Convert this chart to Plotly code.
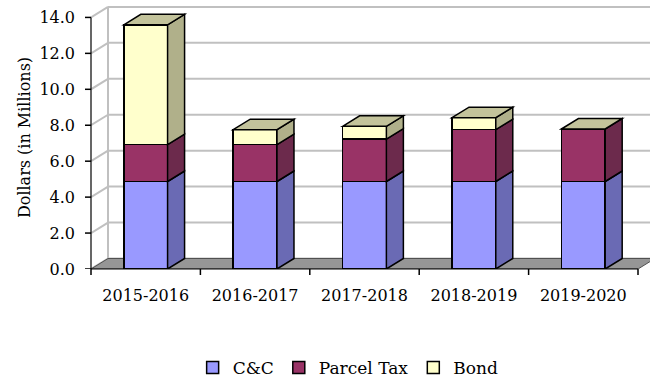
import plotly.graph_objects as go

categories = ["2015-2016", "2016-2017", "2017-2018", "2018-2019", "2019-2020"]
cc = [4.87, 4.87, 4.87, 4.87, 4.87]
parcel = [2.05, 2.05, 2.36, 2.88, 2.92]
bond = [6.67, 0.83, 0.71, 0.67, 0.0]
series_names = ["C&C", "Parcel Tax", "Bond"]
y_ticks = [0, 2, 4, 6, 8, 10, 12, 14]

front_colors = ["#9999FF", "#993366", "#FFFFCC"]
side_colors = ["#6A6AB4", "#6C2A4C", "#B0B08A"]
top_color = "#C3C39B"

# layout geometry (pixels)
W, H = 650, 379
ML, MR, MT, MB = 91, 0, 6, 110
PLOT_W, PLOT_H = W - ML - MR, H - MT - MB
PX_PER_CAT = 109.4
PX_PER_UNIT = 17.97
DEPTH_X_PX, DEPTH_Y_PX = 17, 10.5
TICK_PX = 6
BAR_W = 0.40

DX = DEPTH_X_PX / PX_PER_CAT
DY = DEPTH_Y_PX / PX_PER_UNIT
x_max = -0.5 + PLOT_W / PX_PER_CAT
y_max = PLOT_H / PX_PER_UNIT
n = len(categories)
FONT = "DejaVu Serif"
FS = 16

fig = go.Figure()
series = [cc, parcel, bond]
for name, vals, col in zip(series_names, series, front_colors):
    fig.add_trace(go.Bar(
        x=categories, y=vals, name=name, width=BAR_W,
        marker=dict(color=col, line=dict(color="black", width=1.5)),
    ))

shapes = []
grid_col = "#C0C0C0"
for v in y_ticks:
    shapes.append(dict(type="line", xref="x", yref="y", layer="below",
                       x0=-0.5 + DX, x1=x_max + 1, y0=v + DY, y1=v + DY,
                       line=dict(color=grid_col, width=2)))
    shapes.append(dict(type="line", xref="x", yref="y", layer="below",
                       x0=-0.5, x1=-0.5 + DX, y0=v, y1=v + DY,
                       line=dict(color=grid_col, width=2)))
    shapes.append(dict(type="line", xref="paper", yref="y", layer="above",
                       x0=-TICK_PX / PLOT_W, x1=0, y0=v, y1=v,
                       line=dict(color="black", width=1.5)))
shapes.append(dict(type="line", xref="x", yref="y", layer="below",
                   x0=-0.5 + DX, x1=-0.5 + DX, y0=DY, y1=y_ticks[-1] + DY,
                   line=dict(color=grid_col, width=2)))
x0f, x1f = -0.5, n - 0.5
shapes.append(dict(type="path", xref="x", yref="y", layer="below",
                   path=f"M{x0f},0 L{x1f},0 L{x1f + DX},{DY} L{x0f + DX},{DY} Z",
                   fillcolor="#969696", line=dict(color="#505050", width=1)))
shapes.append(dict(type="line", xref="paper", yref="y", layer="above",
                   x0=0, x1=0, y0=0, y1=y_ticks[-1],
                   line=dict(color="black", width=1.2)))
shapes.append(dict(type="line", xref="paper", yref="paper", layer="above",
                   x0=0, x1=(n * PX_PER_CAT) / PLOT_W, y0=0, y1=0,
                   line=dict(color="black", width=1.2)))
for k in range(n + 1):
    xp = (k * PX_PER_CAT) / PLOT_W
    shapes.append(dict(type="line", xref="paper", yref="paper", layer="above",
                       x0=xp, x1=xp, y0=0, y1=-TICK_PX / PLOT_H,
                       line=dict(color="black", width=1.5)))

for i in range(n):
    xl = i - BAR_W / 2
    xr = i + BAR_W / 2
    base = 0.0
    for s, vals in enumerate(series):
        top = base + vals[i]
        if vals[i] > 0:
            shapes.append(dict(
                type="path", xref="x", yref="y", layer="above",
                path=(f"M{xr},{base} L{xr + DX},{base + DY} "
                      f"L{xr + DX},{top + DY} L{xr},{top} Z"),
                fillcolor=side_colors[s], line=dict(color="black", width=1.5)))
        base = top
    shapes.append(dict(
        type="path", xref="x", yref="y", layer="above",
        path=(f"M{xl},{base} L{xl + DX},{base + DY} "
              f"L{xr + DX},{base + DY} L{xr},{base} Z"),
        fillcolor=top_color, line=dict(color="black", width=1.5)))

fig.update_layout(
    width=W, height=H,
    margin=dict(l=ML, r=MR, t=MT, b=MB),
    barmode="stack",
    plot_bgcolor="white", paper_bgcolor="white",
    font=dict(family=FONT, size=FS, color="black"),
    shapes=shapes,
    showlegend=True,
    legend=dict(orientation="h", x=0.46, xanchor="center",
                yref="container", y=1 - 368 / H, yanchor="middle",
                font=dict(family=FONT, size=17, color="black"),
                traceorder="normal", itemwidth=30),
    xaxis=dict(type="category", range=[-0.5, x_max], showgrid=False,
               showline=False, zeroline=False, ticks="",
               ticklabelstandoff=15,
               tickfont=dict(family=FONT, size=FS, color="black")),
    yaxis=dict(range=[0, y_max], showgrid=False, showline=False, zeroline=False,
               tickvals=y_ticks, tickformat=".1f", ticks="",
               ticklabelstandoff=15,
               tickfont=dict(family=FONT, size=FS, color="black"),
               title=dict(text="Dollars (in Millions)", standoff=4,
                          font=dict(family=FONT, size=FS, color="black"))),
)

fig.write_html("out.html")
